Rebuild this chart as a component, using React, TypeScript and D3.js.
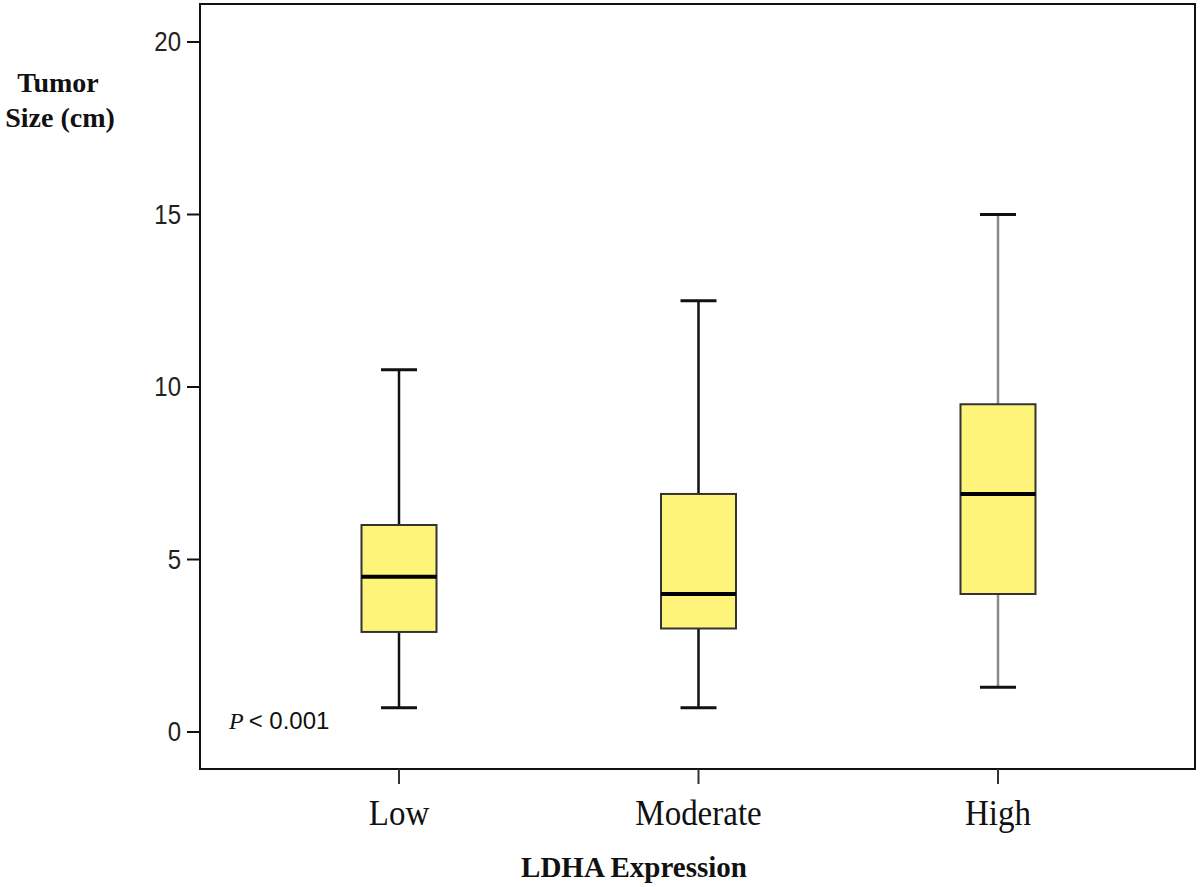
import React from "react";
import * as d3 from "d3";

const categories = ["Low", "Moderate", "High"];
const whiskerMin = [0.7, 0.7, 1.3];
const q1 = [2.9, 3.0, 4.0];
const median = [4.5, 4.0, 6.9];
const q3 = [6.0, 6.9, 9.5];
const whiskerMax = [10.5, 12.5, 15.0];
const yTicks = [0, 5, 10, 15, 20];

const W = 1200;
const H = 887;
const frame = { left: 200, right: 1195, top: 4, bottom: 769 };

export default function App() {
  const y = d3.scaleLinear().domain([0, 20]).range([732, 42]);
  const x = d3.scalePoint<string>().domain(categories).range([399, 998]);
  const boxW = 75;
  const capW = 36;
  const serif = "'Liberation Serif', 'Times New Roman', serif";
  const sans = "'Liberation Sans', Arial, sans-serif";
  const boxes = categories.map((c, i) => ({
    c,
    min: whiskerMin[i],
    q1: q1[i],
    med: median[i],
    q3: q3[i],
    max: whiskerMax[i],
  }));
  return (
    <svg
      width={W}
      height={H}
      style={{ position: "absolute", left: 0, top: 0, background: "#fff" }}
    >
      <rect x={0} y={0} width={W} height={H} fill="#fff" />
      <rect
        x={frame.left}
        y={frame.top}
        width={frame.right - frame.left}
        height={frame.bottom - frame.top}
        fill="none"
        stroke="#111"
        strokeWidth={2}
      />
      {yTicks.map((t) => (
        <g key={t}>
          <line x1={187} x2={frame.left} y1={y(t)} y2={y(t)} stroke="#111" strokeWidth={2} />
          <text
            transform={`translate(181,${y(t) + 9}) scale(1,1.15)`}
            textAnchor="end"
            fontFamily={sans}
            fontSize={24}
            fill="#222"
          >
            {t}
          </text>
        </g>
      ))}
      {categories.map((c) => (
        <g key={c}>
          <line x1={x(c)} x2={x(c)} y1={frame.bottom} y2={784} stroke="#333" strokeWidth={2} />
          <text
            transform={`translate(${x(c)},825) scale(1,1.1)`}
            textAnchor="middle"
            fontFamily={serif}
            fontSize={33}
            fill="#111"
          >
            {c}
          </text>
        </g>
      ))}
      {boxes.map((b, i) => {
        const cx = x(b.c) as number;
        const whiskerColor = i === 2 ? "#8a8a8a" : "#111";
        return (
          <g key={b.c}>
            <line x1={cx} x2={cx} y1={y(b.max)} y2={y(b.q3)} stroke={whiskerColor} strokeWidth={2.5} />
            <line x1={cx} x2={cx} y1={y(b.q1)} y2={y(b.min)} stroke={whiskerColor} strokeWidth={2.5} />
            <line x1={cx - capW / 2} x2={cx + capW / 2} y1={y(b.max)} y2={y(b.max)} stroke="#111" strokeWidth={3} />
            <line x1={cx - capW / 2} x2={cx + capW / 2} y1={y(b.min)} y2={y(b.min)} stroke="#111" strokeWidth={3} />
            <rect
              x={cx - boxW / 2}
              y={y(b.q3)}
              width={boxW}
              height={y(b.q1) - y(b.q3)}
              fill="#FFF47A"
              stroke="#333"
              strokeWidth={2}
            />
            <line x1={cx - boxW / 2} x2={cx + boxW / 2} y1={y(b.med)} y2={y(b.med)} stroke="#000" strokeWidth={4} />
          </g>
        );
      })}
      <text x={229} y={729} fontSize={24} fill="#111">
        <tspan fontFamily={serif} fontStyle="italic">P</tspan>
        <tspan fontFamily={sans} dx={5}>&lt; 0.001</tspan>
      </text>
      <text x={58} y={92} textAnchor="middle" fontFamily={serif} fontWeight="bold" fontSize={28} fill="#111">
        Tumor
      </text>
      <text x={60} y={127} textAnchor="middle" fontFamily={serif} fontWeight="bold" fontSize={28} fill="#111">
        Size (cm)
      </text>
      <text x={634} y={877} textAnchor="middle" fontFamily={serif} fontWeight="bold" fontSize={29} fill="#111">
        LDHA Expression
      </text>
    </svg>
  );
}
